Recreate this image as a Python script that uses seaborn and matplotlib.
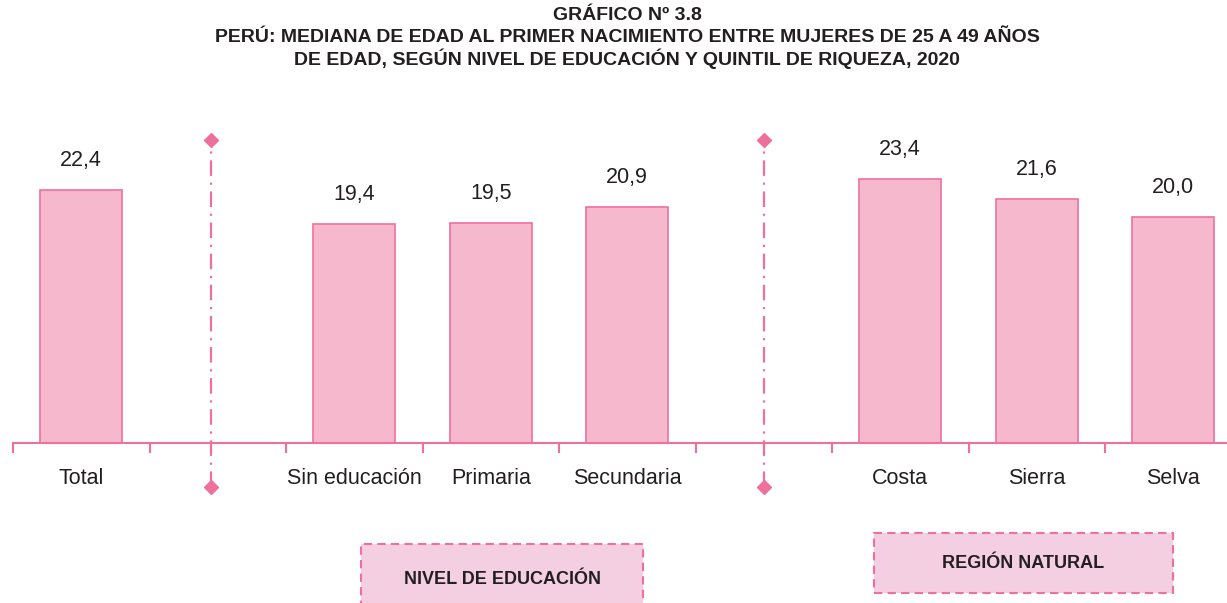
#! /usr/bin/env python3
import matplotlib
matplotlib.use('Agg')
import matplotlib.pyplot as plt
import numpy as np
import pandas as pd
import seaborn as sns
from matplotlib.patches import FancyBboxPatch

# data
categories = ['Total', ' ', 'Sin educación', 'Primaria', 'Secundaria', '  ', 'Costa', 'Sierra', 'Selva']
bar_cats = ['Total', 'Sin educación', 'Primaria', 'Secundaria', 'Costa', 'Sierra', 'Selva']
values = [22.4, 19.4, 19.5, 20.9, 23.4, 21.6, 20.0]
group_labels = ['NIVEL DE EDUCACIÓN', 'REGIÓN NATURAL']

title_lines = ['GRÁFICO Nº 3.8',
               'PERÚ: MEDIANA DE EDAD AL PRIMER NACIMIENTO ENTRE MUJERES DE 25 A 49 AÑOS',
               'DE EDAD, SEGÚN NIVEL DE EDUCACIÓN Y QUINTIL DE RIQUEZA, 2020']

pink = '#f0709c'
fill = '#f6b8cd'
textc = '#231f20'

sns.set_theme(style='white')
plt.rcParams['font.family'] = ['Liberation Sans', 'DejaVu Sans']

df = pd.DataFrame({'cat': bar_cats, 'val': values})

W, H = 1227, 603
fig = plt.figure(figsize=(W / 100, H / 100), dpi=100)
slot = 136.5
ax = fig.add_axes([13 / W, 160 / H, 9 * slot / W, 26 * 11.28 / H])

sns.barplot(data=df, x='cat', y='val', order=categories, color=fill,
            width=0.6, saturation=1, edgecolor=pink, linewidth=1.2, ax=ax)

ax.set_xlim(-0.5, 8.5)
ax.set_ylim(0, 26)
ax.set_xlabel('')
ax.set_ylabel('')
ax.set_yticks([])
for s in ['top', 'right', 'left']:
    ax.spines[s].set_visible(False)
ax.spines['bottom'].set_color(pink)
ax.spines['bottom'].set_linewidth(1.5)

ax.set_xticks(range(len(categories)))
ax.set_xticklabels(categories, fontsize=15.5, color=textc)
ax.tick_params(axis='x', which='major', length=0, pad=18)
ax.set_xticks(np.arange(-0.5, 9.0, 1.0), minor=True)
ax.tick_params(axis='x', which='minor', length=7, width=1.5, color=pink, bottom=True)

for c in ax.containers:
    ax.bar_label(c, labels=[f'{v:.1f}'.replace('.', ',') for v in c.datavalues],
                 padding=14, fontsize=15.5, color=textc)

# divider lines
for xd in [0.95, 5.0]:
    ax.plot([xd, xd], [-3.9, 26.9], color=pink, lw=1.6,
            linestyle=(0, (7, 3, 1, 3)), clip_on=False)
    ax.plot([xd, xd], [-3.9, 26.9], linestyle='none', marker='D', ms=7,
            color=pink, clip_on=False)

for i, line in enumerate(title_lines):
    fig.text(627 / W, 1 - (15 + 22 * i) / H, line, ha='center', va='center',
             fontsize=14, fontweight='bold', color=textc)

# group boxes
boxes = [(361, 544, 282, 70), (874, 533, 299, 60)]
for (x0, y0, bw, bh), lab in zip(boxes, group_labels):
    r = FancyBboxPatch((x0 / W, 1 - (y0 + bh) / H), bw / W, bh / H,
                       boxstyle='square,pad=0', transform=fig.transFigure,
                       facecolor='#f4cfe1', edgecolor=pink, lw=1.5,
                       linestyle=(0, (4, 2.5)), clip_on=False)
    fig.patches.append(r)
    ty = y0 + 35 if bh > 60 else y0 + bh / 2
    fig.text((x0 + bw / 2) / W, 1 - ty / H, lab, ha='center', va='center',
             fontsize=13, fontweight='bold', color=textc)

plt.savefig('out.png', dpi=100)
